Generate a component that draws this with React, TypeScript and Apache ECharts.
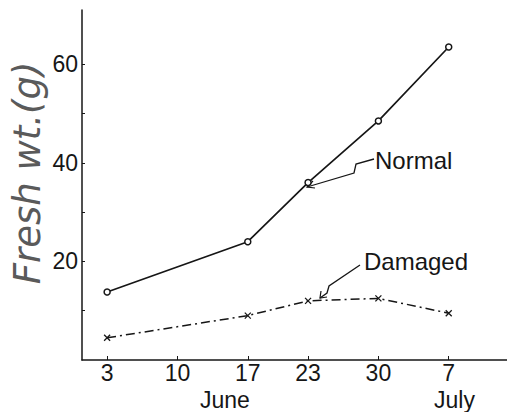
import React, { useEffect, useRef } from "react";
import * as echarts from "echarts";

// Days counted from 1 June (7 July = day 37)
const dayValues = [3, 10, 17, 23, 30, 37];
const dayLabels = ["3", "10", "17", "23", "30", "7"];
const sampleDays = [3, 17, 23, 30, 37];
const normalValues = [13.8, 24.0, 36.0, 48.5, 63.5];
const damagedValues = [4.5, 9.0, 12.0, 12.5, 9.5];
const yLabelValues = [20, 40, 60];
const yTickValues = [10, 20, 30, 40, 50, 60];

const FONT = "Liberation Sans";
const INK = "#161616";

export default function App() {
  const ref = useRef<HTMLDivElement>(null);
  useEffect(() => {
    if (!ref.current) return;
    const chart = echarts.init(ref.current, null, { renderer: "svg" });
    const labelMap: Record<number, string> = {};
    dayValues.forEach((d, i) => (labelMap[d] = dayLabels[i]));
    chart.setOption({
      animation: false,
      backgroundColor: "#ffffff",
      grid: { left: 82, top: 10, right: 0, bottom: 52 },
      xAxis: {
        type: "value",
        min: 0.5,
        max: 42.8,
        splitLine: { show: false },
        axisLine: { show: true, onZero: false, lineStyle: { color: INK, width: 1.5 } },
        axisTick: { show: true, inside: true, length: 4, customValues: dayValues, lineStyle: { color: INK } },
        axisLabel: {
          customValues: dayValues,
          formatter: (v: number) => labelMap[v] ?? "",
          fontFamily: FONT,
          fontSize: 23,
          color: INK,
          margin: 1,
        },
      },
      yAxis: {
        type: "value",
        min: 0,
        max: 71,
        splitLine: { show: false },
        axisLine: { show: true, onZero: false, lineStyle: { color: INK, width: 1.5 } },
        axisTick: { show: true, inside: true, length: 3, customValues: yTickValues, lineStyle: { color: INK } },
        axisLabel: {
          customValues: yLabelValues,
          formatter: (v: number) => String(v),
          fontFamily: FONT,
          fontSize: 23,
          color: INK,
          margin: 4,
        },
      },
      series: [
        {
          name: "Normal",
          type: "line",
          data: sampleDays.map((d, i) => [d, normalValues[i]]),
          symbol: "circle",
          symbolSize: 6,
          itemStyle: { color: "#ffffff", borderColor: INK, borderWidth: 1.5 },
          lineStyle: { color: INK, width: 1.7 },
        },
        {
          name: "Damaged",
          type: "line",
          data: sampleDays.map((d, i) => [d, damagedValues[i]]),
          symbol: "path://M0,0L10,10M10,0L0,10",
          symbolSize: 6,
          itemStyle: { color: "none", borderColor: INK, borderWidth: 1.3 },
          lineStyle: { color: INK, width: 1.5, type: [9, 4, 2, 4] },
        },
      ],
      graphic: [
        {
          type: "text",
          x: 27,
          y: 173,
          rotation: Math.PI / 2,
          style: {
            text: "Fresh wt.(g)",
            font: `italic 300 37px "DejaVu Sans"`,
            fill: "#5a5a5a",
            align: "center",
            verticalAlign: "middle",
          },
        },
        { type: "text", left: 200, top: 388, style: { text: "June", font: `23px "${FONT}"`, fill: INK } },
        { type: "text", left: 434, top: 388, style: { text: "July", font: `23px "${FONT}"`, fill: INK } },
        { type: "text", left: 375, top: 148, style: { text: "Normal", font: `24px "${FONT}"`, fill: INK } },
        { type: "text", left: 364, top: 249, style: { text: "Damaged", font: `24px "${FONT}"`, fill: INK } },
        {
          type: "polyline",
          shape: { points: [[374, 159], [356, 164], [354, 173], [307, 187]] },
          style: { stroke: INK, lineWidth: 1.3, fill: "none" },
        },
        {
          type: "polyline",
          shape: { points: [[313, 181], [307, 187], [315, 188]] },
          style: { stroke: INK, lineWidth: 1.2, fill: "none" },
        },
        {
          type: "polyline",
          shape: { points: [[360, 265], [329, 286], [327, 293], [320, 298]] },
          style: { stroke: INK, lineWidth: 1.3, fill: "none" },
        },
        {
          type: "polyline",
          shape: { points: [[321, 291], [320, 298], [327, 297]] },
          style: { stroke: INK, lineWidth: 1.2, fill: "none" },
        },
      ],
    });
    return () => chart.dispose();
  }, []);
  return (
    <div
      ref={ref}
      style={{ position: "fixed", left: 0, top: 0, width: 507, height: 412, background: "#fff" }}
    />
  );
}
